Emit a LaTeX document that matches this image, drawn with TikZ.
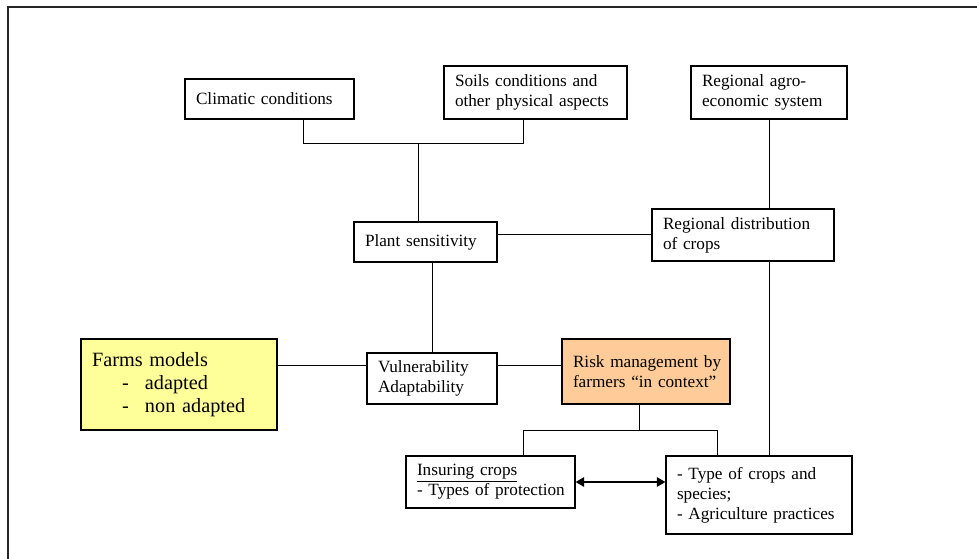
\documentclass[tikz,border=0pt]{standalone}
\usepackage{fontspec}
\setmainfont{Liberation Serif}
\usepackage{tikz}
\usepackage{xcolor}
\usetikzlibrary{arrows.meta, positioning, calc}
\definecolor{framegray}{HTML}{262626}
\definecolor{farmfill}{HTML}{FFFF99}
\definecolor{riskfill}{HTML}{FFCC99}

\begin{document}
\begin{tikzpicture}[
    x=0.75pt, y=-0.75pt,
    box/.style={draw=black, line width=0.8pt, fill=white, font=\fontsize{12.9}{15}\selectfont, align=left, inner xsep=8.25pt, inner ysep=2pt},
    link/.style={line width=0.75pt, black},
    biarr/.style={{Triangle[length=6.5pt,width=7pt]}-{Triangle[length=6.5pt,width=7pt]}, line width=1.7pt, black}
]
    \useasboundingbox (0,0) rectangle (977,559);
    % outer frame
    \draw[framegray, line width=1.5pt] (8,7) rectangle (1000,600);

    % top row
    \node[box, text width=110.25pt, minimum height=30pt] (clim) at (269.5,99) {\mbox{Climatic conditions}};
    \node[box, text width=120.75pt, minimum height=39.75pt] (soil) at (535.5,92.5) {\mbox{Soils conditions and}\\\mbox{other physical aspects}};
    \node[box, text width=100.5pt, minimum height=39.75pt] (agro) at (769,92.5) {\mbox{Regional agro-}\\\mbox{economic system}};

    % middle
    \node[box, text width=90.75pt, minimum height=30pt] (plant) at (425.5,242) {\mbox{Plant sensitivity}};
    \node[box, text width=120pt, minimum height=39pt] (dist) at (743,235) {\mbox{Regional distribution}\\\mbox{of crops}};
    \node[box, text width=81pt, minimum height=38.25pt] (vuln) at (432,378.5) {\mbox{Vulnerability}\\\mbox{Adaptability}};
    \node[box, fill=riskfill, text width=109.5pt, minimum height=48.75pt] (risk) at (646,371.5) {\mbox{Risk management by}\\\mbox{farmers “in context”}};
    \node[box, fill=farmfill, text width=130.5pt, minimum height=68.25pt, font=\fontsize{15.2}{17.5}\selectfont] (farm) at (179,384.5)
        {Farms models\\\hspace*{22.5pt}\makebox[17.25pt][l]{-}adapted\\\hspace*{22.5pt}\makebox[17.25pt][l]{-}non adapted};

    % bottom row
    \node[box, text width=110.25pt, minimum height=39pt] (ins) at (490.5,482) {\mbox{\underline{Insuring crops}}\\\mbox{- Types of protection}};
    \node[box, text width=123pt, minimum height=58.5pt] (type) at (759,495) {\mbox{- Type of crops and}\\\mbox{species;}\\\mbox{- Agriculture practices}};

    % joints
    \coordinate (cl) at (303,144);
    \coordinate (cr) at (523,144);
    \coordinate (cm) at (418,144);
    \coordinate (midrow) at (0,365);
    \coordinate (rl) at (523,430);
    \coordinate (rr) at (717,430);
    \coordinate (rm) at (639,430);

    \draw[link] (clim.south -| cl) -- (cl) -- (cr) -- (soil.south -| cr);
    \draw[link] (cm) -- (plant.north -| cm);
    \draw[link] (plant.east |- dist.west) -- (dist.west);
    \draw[link] (agro.south) -- (agro.south |- dist.north);
    \draw[link] (plant.south -| vuln.north) -- (vuln.north);
    \draw[link] (dist.south -| agro.south) -- (type.north -| agro.south);
    \draw[link] (farm.east |- midrow) -- (vuln.west |- midrow);
    \draw[link] (vuln.east |- midrow) -- (risk.west |- midrow);
    \draw[link] (risk.south -| rm) -- (rm);
    \draw[link] (ins.north -| rl) |- (rr) -- (type.north -| rr);
    \draw[biarr] (ins.east) -- (type.west |- ins.east);
\end{tikzpicture}
\end{document}
